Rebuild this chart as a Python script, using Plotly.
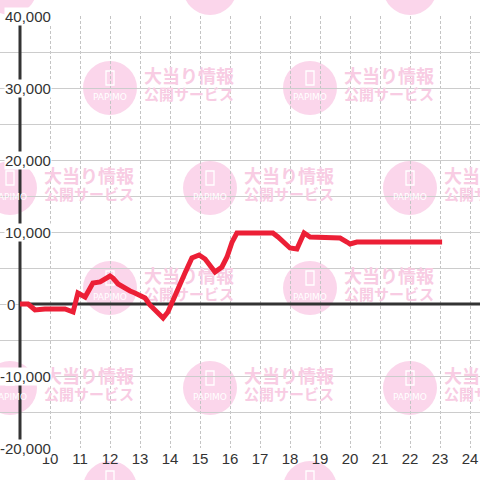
import plotly.graph_objects as go

# ---- data ----
hours = [9.0, 9.27, 9.5, 9.83, 10.5, 10.67, 10.77, 10.93, 11.17, 11.43, 11.67, 12.0, 12.1,
         12.27, 12.43, 12.67, 12.83, 13.0, 13.17, 13.33, 13.57, 13.77, 13.93, 14.23, 14.5,
         14.73, 14.97, 15.17, 15.5, 15.73, 15.9, 16.07, 16.23, 16.4, 17.43, 17.6, 17.83,
         18.0, 18.23, 18.47, 18.67, 19.43, 19.67, 19.9, 20.0, 20.23, 23.07]
balance = [0, 0, -830, -690, -690, -970, -1110, 1530, 970, 2920, 3060, 3890, 3610,
           2780, 2360, 1810, 1530, 1250, 830, -140, -1110, -1940, -1110, 1530, 4310,
           6390, 6810, 6250, 4440, 5140, 6530, 8610, 9860, 9860, 9860, 9310, 8470,
           7780, 7640, 9860, 9310, 9310, 9170, 8610, 8330, 8610, 8610]
x_ticks = list(range(10, 25))
y_labels = [40000, 30000, 20000, 10000, 0, -10000, -20000]

# ---- layout constants ----
W, H = 480, 480
ML, MR, MT, MB = 0, 0, 16, 32
X_RANGE = [8 + 1 / 3, 24 + 1 / 3]
Y_RANGE = [-20000, 40000]
PW, PH = W - ML - MR, H - MT - MB

def px_to_x(px):
    return X_RANGE[0] + (px - ML) / PW * (X_RANGE[1] - X_RANGE[0])

def py_to_y(py):
    return Y_RANGE[1] - (py - MT) / PH * (Y_RANGE[1] - Y_RANGE[0])

def px_paper(px):
    return (px - ML) / PW

def py_paper(py):
    return (H - MB - py) / PH

# watermark grid (decoration)
wm_centers = []
for r, cy in enumerate([-12, 88, 188, 288, 388, 488]):
    cols = [10, 210, 410] if r % 2 == 0 else [-90, 110, 310]
    for cx in cols:
        wm_centers.append((cx, cy))

CIRCLE = "#FBD6EB"
WM_TEXT = "#F8CCE3"
AXIS = "#333333"

fig = go.Figure()
shapes = []
for cx, cy in wm_centers:
    shapes.append(dict(type="circle", xref="paper", yref="paper",
                       x0=px_paper(cx - 27), x1=px_paper(cx + 27),
                       y0=py_paper(cy + 27), y1=py_paper(cy - 27),
                       fillcolor=CIRCLE, line_width=0, layer="below"))
    shapes.append(dict(type="rect", xref="paper", yref="paper",
                       x0=px_paper(cx - 4), x1=px_paper(cx + 4),
                       y0=py_paper(cy - 3), y1=py_paper(cy - 17),
                       fillcolor="rgba(0,0,0,0)", line=dict(color="white", width=1.3),
                       layer="below"))

# watermark texts (as traces so the data line sits on top)
fig.add_trace(go.Scatter(
    x=[px_to_x(cx + 34) for cx, cy in wm_centers],
    y=[py_to_y(cy - 10) for cx, cy in wm_centers],
    mode="text", text=["大当り情報"] * len(wm_centers), textposition="middle right",
    textfont=dict(family="Noto Sans CJK JP", size=18, color=WM_TEXT, weight="bold"),
    cliponaxis=False, hoverinfo="skip", showlegend=False))
fig.add_trace(go.Scatter(
    x=[px_to_x(cx + 34) for cx, cy in wm_centers],
    y=[py_to_y(cy + 8) for cx, cy in wm_centers],
    mode="text", text=["公開サービス"] * len(wm_centers), textposition="middle right",
    textfont=dict(family="Noto Sans CJK JP", size=15, color=WM_TEXT, weight="bold"),
    cliponaxis=False, hoverinfo="skip", showlegend=False))
fig.add_trace(go.Scatter(
    x=[px_to_x(cx) for cx, cy in wm_centers],
    y=[py_to_y(cy + 10) for cx, cy in wm_centers],
    mode="text", text=["PAPIMO"] * len(wm_centers), textposition="middle center",
    textfont=dict(family="DejaVu Sans", size=9, color="white"),
    cliponaxis=False, hoverinfo="skip", showlegend=False))

# axis line and zero line
shapes.append(dict(type="line", xref="x", yref="y", x0=hours[0], x1=hours[0],
                   y0=Y_RANGE[0], y1=Y_RANGE[1], line=dict(color=AXIS, width=3),
                   layer="between"))
shapes.append(dict(type="line", xref="x", yref="y", x0=hours[0], x1=X_RANGE[1],
                   y0=0, y1=0, line=dict(color=AXIS, width=3), layer="between"))

# data line
fig.add_trace(go.Scatter(x=hours, y=balance, mode="lines",
                         line=dict(color="#EC1F36", width=5),
                         hoverinfo="skip", showlegend=False))

annotations = []
for v in y_labels:
    annotations.append(dict(
        xref="paper", yref="y", x=px_paper(16 if v == 0 else 52), y=v,
        xanchor="right", yanchor="middle", showarrow=False,
        text=f"{v:,}", bgcolor="white", borderpad=0,
        font=dict(family="Liberation Sans", size=15, color=AXIS)))

fig.update_layout(
    width=W, height=H, margin=dict(l=ML, r=MR, t=MT, b=MB),
    paper_bgcolor="white", plot_bgcolor="white",
    shapes=shapes, annotations=annotations, showlegend=False,
    xaxis=dict(range=X_RANGE, tickvals=x_ticks, ticktext=[str(t) for t in x_ticks],
               showgrid=True, gridcolor="#c4c4c4", gridwidth=1, griddash="3px,2px",
               zeroline=False, showline=False, ticks="",
               tickfont=dict(family="Liberation Sans", size=15, color=AXIS)),
    yaxis=dict(range=Y_RANGE, dtick=5000, showgrid=True, gridcolor="#cccccc",
               gridwidth=1, zeroline=False, showticklabels=False, ticks="",
               showline=False),
)

fig.write_html("out.html", config={"displayModeBar": False},
               post_script="document.body.style.margin='0';document.body.style.overflow='hidden';")
